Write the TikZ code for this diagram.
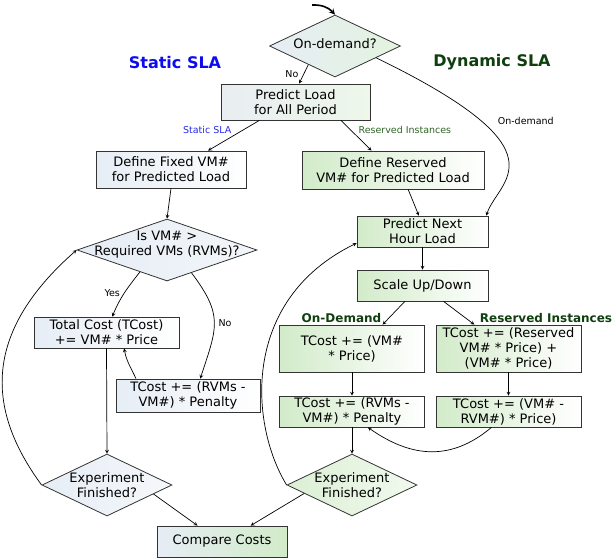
\documentclass[tikz,border=0pt]{standalone}
\usepackage{fontspec}
\setmainfont{DejaVu Sans}
\usetikzlibrary{shapes.geometric}

\definecolor{staticfill}{HTML}{E6EDF5}
\definecolor{dynfill}{HTML}{D2EBC9}
\definecolor{slablue}{HTML}{0C0CEE}
\definecolor{edgeblue}{HTML}{2A2AEE}
\definecolor{sladark}{HTML}{0F3F0F}
\definecolor{edgegreen}{HTML}{2E6424}

\newcommand{\boxfont}{\fontsize{13}{15}\selectfont}
\newcommand{\edgefont}{\fontsize{9.5}{11}\selectfont}
\newcommand{\titlefont}{\fontsize{16}{19}\selectfont\bfseries}
\newcommand{\sectfont}{\fontsize{12}{14}\selectfont\bfseries}

\begin{document}
\begin{tikzpicture}[x=1pt, y=1pt, >=stealth,
    box/.style={rectangle, draw=black!80, line width=0.8pt, align=center, inner xsep=2pt, inner ysep=1.5pt, font=\boxfont},
    staticbox/.style={box, left color=staticfill, right color=white},
    dynbox/.style={box, left color=dynfill, right color=white},
    decision/.style={diamond, draw=black!80, line width=0.8pt, inner sep=0pt},
    conn/.style={->, line width=0.7pt},
    edgelabel/.style={font=\edgefont, inner sep=2pt}]
    \useasboundingbox (0,0) rectangle (613,-558);

    \node[font=\titlefont, text=slablue] (statictitle) at (175,-63) {Static SLA};
    \node[font=\titlefont, text=sladark] (dyntitle) at (492,-62) {Dynamic SLA};

    \node[decision, left color=staticfill, right color=dynfill!60, minimum width=131pt, minimum height=62pt,
        label={[font=\boxfont, yshift=2pt]center:On-demand?}] (od) at (335,-46) {};
    \node[staticbox, left color=staticfill!95!black!60, right color=dynfill!40, minimum width=149pt, minimum height=36pt] (pload) at (295.5,-102) {Predict Load\\for All Period};
    \node[staticbox, minimum width=150pt, minimum height=37pt] (dfixed) at (171,-169.5) {Define Fixed VM\#\\for Predicted Load};
    \node[dynbox, minimum width=182pt, minimum height=38pt] (dres) at (393,-170) {Define Reserved\\VM\# for Predicted Load};

    \node[decision, left color=staticfill, right color=staticfill!50, minimum width=180pt, minimum height=62pt,
        label={[font=\boxfont, align=center, yshift=5pt]center:Is VM\# >\\Required VMs (RVMs)?}] (check) at (167,-250) {};
    \node[staticbox, minimum width=145pt, minimum height=31pt] (tcost) at (106.5,-332.5) {Total Cost (TCost)\\+= VM\# * Price};
    \node[staticbox, minimum width=144pt, minimum height=33pt] (spen) at (188,-395.5) {TCost += (RVMs -\\VM\#) * Penalty};

    \node[dynbox, minimum width=131pt, minimum height=31pt] (pnext) at (422.5,-231.5) {Predict Next\\Hour Load};
    \node[dynbox, minimum width=131pt, minimum height=31pt] (scale) at (422.5,-285.5) {Scale Up/Down};
    \node[dynbox, minimum width=145pt, minimum height=47pt] (odbox) at (352,-348.5) {TCost += (VM\#\\ * Price)};
    \node[dynbox, minimum width=145pt, minimum height=47pt] (resbox) at (508.5,-348.5) {TCost += (Reserved\\VM\# * Price) +\\(VM\# * Price)};
    \node[font=\sectfont, text=sladark] (odlabel) at (341.5,-318) {On-Demand};
    \node[font=\sectfont, text=sladark] (reslabel) at (546,-318) {Reserved Instances};
    \node[dynbox, minimum width=145pt, minimum height=31pt] (dpen) at (352,-411.5) {TCost += (RVMs -\\VM\#) * Penalty};
    \node[dynbox, minimum width=145pt, minimum height=31pt] (rprice) at (508.5,-411.5) {TCost += (VM\# -\\RVM\#) * Price)};

    \node[decision, left color=staticfill, right color=staticfill!40, minimum width=130pt, minimum height=62pt,
        label={[font=\boxfont, align=center]center:Experiment\\Finished?}] (sexp) at (107,-485) {};
    \node[decision, left color=dynfill!80, right color=dynfill!30, minimum width=130pt, minimum height=62pt,
        label={[font=\boxfont, align=center]center:Experiment\\Finished?}] (dexp) at (352,-485) {};
    \node[staticbox, right color=dynfill, minimum width=130pt, minimum height=31pt] (compare) at (222,-541.5) {Compare Costs};

    \coordinate (entry) at (312,-5);
    \draw[->, line width=1.6pt] (entry) to[bend left=25] (od.north);

    \draw[conn] (od.215) -- (pload.79) node[midway, left=3pt, edgelabel] {No};
    \draw[conn] (od.-16) .. controls (570,-152) and (498,-180) .. (pnext.14)
        node[pos=0.27, anchor=west, xshift=14pt, edgelabel] {On-demand};
    \draw[conn] (pload.-153) -- (dfixed.27) node[midway, above left, edgelabel, text=edgeblue] {Static SLA};
    \draw[conn] (pload.-22) -- (dres.138) node[midway, above right, edgelabel, text=edgegreen] {Reserved Instances};

    \draw[conn] (dfixed.south) -- (check.north);
    \draw[conn] (check.219) to[out=-128, in=68] node[midway, left=2pt, edgelabel] {Yes} (tcost.70);
    \draw[conn] (check.-43) to[out=-53, in=72, looseness=1.3] node[midway, right=2pt, edgelabel] {No} (spen.54);
    \draw[conn] (spen.162) to[out=115, in=-80] (tcost.-42);
    \draw[conn] (tcost.south) -- (sexp.north);
    \draw[conn] (sexp.west) .. controls (-12,-412) and (-20,-335) .. (check.west);
    \draw[conn] (sexp.-11) -- (compare.147);

    \draw[conn] (dres.-52) -- (pnext.103);
    \draw[conn] (pnext.south) -- (scale.north);
    \draw[conn] (scale.-138) -- (odbox.38);
    \draw[conn] (scale.-37) -- (resbox.145);
    \draw[conn] (odbox.south) -- (dpen.north);
    \draw[conn] (resbox.south) -- (rprice.north);
    \draw[conn] (rprice.-137) to[out=-140, in=-35, looseness=1.1] (dpen.-45);
    \draw[conn] (dpen.south) -- (dexp.north);
    \draw[conn] (dexp.west) .. controls (250,-425) and (240,-300) .. (pnext.190);
    \draw[conn] (dexp.190) -- (compare.29);
\end{tikzpicture}
\end{document}
